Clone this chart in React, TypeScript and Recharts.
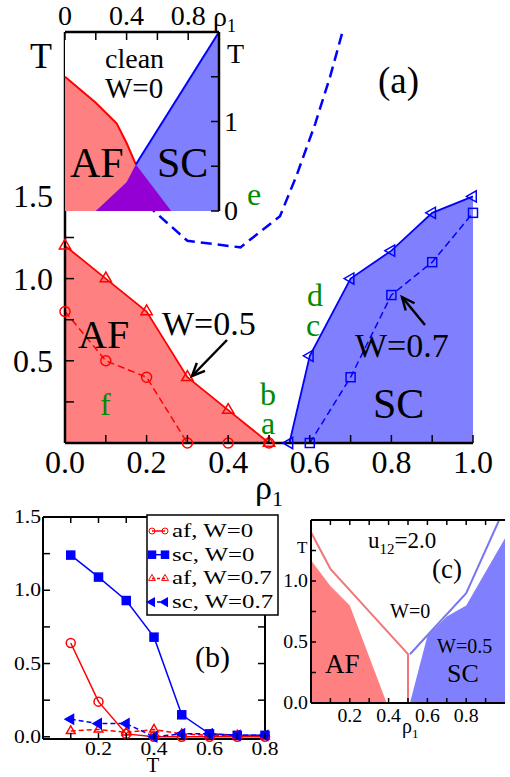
import React from 'react';
import { ComposedChart, Line, Area, XAxis, YAxis } from 'recharts';

const SERIF = '"Liberation Serif", "Times New Roman", serif';
const RED = '#ff0000';
const BLUE = '#0000ff';
const RED_FILL = '#ff8080';
const BLUE_FILL = '#8080ff';
const PURPLE = '#9400d3';
const GREEN = '#008b00';

// (a) main panel: transition lines, rho_1 vs T
const afTriRho = [0, 0.1, 0.2, 0.3, 0.4, 0.5];
const afTriT = [1.2, 1.0, 0.8, 0.4, 0.2, 0];
const afCircRho = [0, 0.1, 0.2, 0.3, 0.4, 0.5];
const afCircT = [0.8, 0.5, 0.4, 0, 0, 0];
const scTriRho = [0.55, 0.6, 0.7, 0.8, 0.9, 1.0];
const scTriT = [0, 0.53, 1.0, 1.17, 1.4, 1.5];
const scSqRho = [0.6, 0.7, 0.8, 0.9, 1.0];
const scSqT = [0, 0.4, 0.9, 1.1, 1.4];
const cleanScRho = [0.2, 0.3, 0.43, 0.527, 0.568, 0.613, 0.65, 0.68];
const cleanScT = [1.45, 1.23, 1.19, 1.38, 1.63, 1.94, 2.23, 2.5];

// inset: clean W=0
const insetAfRho = [0, 0.2, 0.335, 0.4, 0.46, 0.69];
const insetAfT = [1.5, 1.21, 0.98, 0.76, 0.52, 0];
const insetScRho = [0.2, 0.4, 0.46, 1.0];
const insetScT = [0, 0.32, 0.52, 2.0];
const insetBothRho = [0.2, 0.4, 0.46, 0.69];
const insetBothT = [0, 0.32, 0.52, 0];

// (b) order parameters vs T
const bT = [0.1, 0.2, 0.3, 0.4, 0.5, 0.6, 0.7, 0.8];
const afW0 = [0.64, 0.24, 0.02, 0, 0, 0, 0, 0];
const scW0 = [1.24, 1.09, 0.93, 0.68, 0.15, 0.02, 0.01, 0.01];
const afW07 = [0.04, 0.05, 0.03, 0.05, 0.02, 0.01, 0.01, 0];
const scW07 = [0.12, 0.09, 0.09, 0, 0.02, 0.02, 0.01, 0.01];
const legendB = ['af, W=0', 'sc, W=0', 'af, W=0.7', 'sc, W=0.7'];

// (c) u12 = 2.0
const cAfRho = [0, 0.1, 0.2, 0.39];
const cAfT = [1.17, 0.96, 0.8, 0];
const cScRho = [0.51, 0.6, 0.7, 0.8, 1.0];
const cScT = [0, 0.55, 0.71, 0.8, 1.35];
const cAf0Rho = [0, 0.1, 0.5, 0.5];
const cAf0T = [1.4, 1.1, 0.4, 0];
const cSc0Rho = [0.51, 0.8, 0.97];
const cSc0T = [0.4, 0.9, 1.5];

const pts = (xs: number[], ys: number[]) => xs.map((x, i) => ({ x, T: ys[i] }));
const steps = (a: number, b: number, d: number) => {
  const out: number[] = [];
  for (let i = 0; a + i * d <= b + 1e-9; i++) out.push(+(a + i * d).toFixed(3));
  return out;
};
const isMul = (v: number, m: number) => Math.abs(v / m - Math.round(v / m)) < 1e-6;

type TickCfg = {
  side: 'bottom' | 'top' | 'left' | 'right';
  len: number;
  label?: (v: number) => string;
  fs?: number;
  gap?: number;
  dy?: number;
  sx?: number;
  sw?: number;
};

const makeTick = (c: TickCfg) => (p: any) => {
  const { x, y, payload, index } = p;
  const v = payload.value as number;
  const text = c.label ? c.label(v) : '';
  const g = c.gap ?? 0;
  let l = [x, y, x, y - c.len];
  let tx = x, ty = y + g, anchor = 'middle';
  if (c.side === 'top') { l = [x, y, x, y + c.len]; ty = y - g; }
  if (c.side === 'left') { l = [x, y, x + c.len, y]; tx = x - g; ty = y + (c.dy ?? 0); anchor = 'end'; }
  if (c.side === 'right') { l = [x, y, x - c.len, y]; tx = x + g; ty = y + (c.dy ?? 0); anchor = 'start'; }
  return (
    <g key={`tk-${c.side}-${index}`}>
      <line x1={l[0]} y1={l[1]} x2={l[2]} y2={l[3]} stroke="#000" strokeWidth={c.sw ?? 1.5} />
      {text ? (
        <text transform={`translate(${tx} ${ty}) scale(${c.sx ?? 1} 1)`} textAnchor={anchor}
          fontSize={c.fs} style={{ fontFamily: SERIF }} fill="#000">{text}</text>
      ) : null}
    </g>
  );
};

const marker = (shape: string, color: string, s: number, filled: boolean, sw = 1.5) => (p: any) => {
  const { cx, cy, index } = p;
  const key = `m-${shape}-${color}-${index}`;
  if (cx == null || cy == null) return <g key={key} />;
  const fill = filled ? color : 'none';
  if (shape === 'circ') return <circle key={key} cx={cx} cy={cy} r={s} fill={fill} stroke={color} strokeWidth={sw} />;
  if (shape === 'sq') return <rect key={key} x={cx - s} y={cy - s} width={2 * s} height={2 * s} fill={fill} stroke={color} strokeWidth={sw} />;
  const k = 0.87 * s, h = 0.5 * s;
  const poly = shape === 'tri'
    ? `${cx},${cy - s} ${cx - k},${cy + h} ${cx + k},${cy + h}`
    : `${cx - s},${cy} ${cx + h},${cy - k} ${cx + h},${cy + k}`;
  return <polygon key={key} points={poly} fill={fill} stroke={color} strokeWidth={sw} strokeLinejoin="miter" />;
};

const frame = (w: number) => ({ stroke: '#000', strokeWidth: w });

// invisible copy of a series so the secondary (top / right) axes get a scale and draw their ticks
const ghost = (data: any[]) => (
  <Line xAxisId="t" yAxisId="r" data={data} dataKey="T" stroke="none" dot={false} activeDot={false}
    isAnimationActive={false} legendType="none" />
);

function MainChart() {
  return (
    <ComposedChart width={510} height={500} margin={{ top: 32, right: 37, left: 0, bottom: 0 }}>
      <XAxis type="number" dataKey="x" domain={[0, 1]} ticks={steps(0, 1, 0.1)} interval={0}
        tickSize={0} tickMargin={0} tickLine={false} axisLine={frame(2.5)} height={57}
        tick={makeTick({ side: 'bottom', len: 8, gap: 30, fs: 32, label: (v) => (isMul(v, 0.2) ? v.toFixed(1) : '') })} />
      <XAxis xAxisId="t" orientation="top" type="number" dataKey="x" domain={[0, 1]} height={0}
        tick={false} tickLine={false} axisLine={frame(2.5)} />
      <YAxis type="number" domain={[0, 2.5]} ticks={steps(0.25, 1.5, 0.25)} interval={0}
        tickSize={0} tickMargin={0} tickLine={false} axisLine={frame(2.5)} width={65}
        tick={makeTick({ side: 'left', len: 9, gap: 12, dy: 11, fs: 32, label: (v) => (isMul(v, 0.5) ? v.toFixed(1) : '') })} />
      <YAxis yAxisId="r" orientation="right" type="number" domain={[0, 2.5]} width={0}
        tick={false} tickLine={false} axisLine={frame(2.5)} />
      {ghost(pts(scTriRho, scTriT))}
      <Area data={pts(afTriRho, afTriT)} dataKey="T" type="linear" fill={RED_FILL} fillOpacity={1}
        stroke="none" baseValue={0} dot={false} activeDot={false} isAnimationActive={false} />
      <Area data={pts(scTriRho, scTriT)} dataKey="T" type="linear" fill={BLUE_FILL} fillOpacity={1}
        stroke="none" baseValue={0} dot={false} activeDot={false} isAnimationActive={false} />
      <Line data={pts(cleanScRho, cleanScT)} dataKey="T" type="linear" stroke={BLUE} strokeWidth={2.5}
        strokeDasharray="11 6" dot={false} activeDot={false} isAnimationActive={false} />
      <Line data={pts(afTriRho, afTriT)} dataKey="T" type="linear" stroke={RED} strokeWidth={1.8}
        dot={marker('tri', RED, 6.5, false)} activeDot={false} isAnimationActive={false} />
      <Line data={pts(afCircRho, afCircT)} dataKey="T" type="linear" stroke={RED} strokeWidth={1.5}
        strokeDasharray="7 4" dot={marker('circ', RED, 5, false)} activeDot={false} isAnimationActive={false} />
      <Line data={pts(scTriRho, scTriT)} dataKey="T" type="linear" stroke={BLUE} strokeWidth={1.8}
        dot={marker('ltri', BLUE, 6.5, false)} activeDot={false} isAnimationActive={false} />
      <Line data={pts(scSqRho, scSqT)} dataKey="T" type="linear" stroke={BLUE} strokeWidth={1.5}
        strokeDasharray="7 4" dot={marker('sq', BLUE, 4.5, false)} activeDot={false} isAnimationActive={false} />
    </ComposedChart>
  );
}

function InsetChart() {
  return (
    <ComposedChart width={210} height={230} margin={{ top: 31, right: 0, left: 25, bottom: 19 }}>
      <XAxis type="number" dataKey="x" domain={[0, 1]} height={0} tick={false} tickLine={false} axisLine={frame(2.5)} />
      <XAxis xAxisId="t" orientation="top" type="number" dataKey="x" domain={[0, 1]} ticks={steps(0, 0.8, 0.2)} interval={0}
        height={1} tickSize={0} tickMargin={0} tickLine={false} axisLine={frame(2.5)}
        tick={makeTick({ side: 'top', len: 8, gap: 7, fs: 28, label: (v) => (v === 0 ? '0' : isMul(v, 0.4) ? v.toFixed(1) : '') })} />
      <YAxis type="number" domain={[0, 2]} width={0} tick={false} tickLine={false} axisLine={frame(2.5)} />
      <YAxis yAxisId="r" orientation="right" type="number" domain={[0, 2]} ticks={steps(0, 1.5, 0.5)} interval={0}
        width={31} tickSize={0} tickMargin={0} tickLine={false} axisLine={frame(2.5)}
        tick={makeTick({ side: 'right', len: 8, gap: 5, dy: 9, fs: 28, label: (v) => (isMul(v, 1) ? String(v) : '') })} />
      {ghost(pts(insetScRho, insetScT))}
      <Area data={pts(insetAfRho, insetAfT)} dataKey="T" type="linear" fill={RED_FILL} fillOpacity={1}
        stroke="none" baseValue={0} dot={false} activeDot={false} isAnimationActive={false} />
      <Area data={pts(insetScRho, insetScT)} dataKey="T" type="linear" fill={BLUE_FILL} fillOpacity={1}
        stroke="none" baseValue={0} dot={false} activeDot={false} isAnimationActive={false} />
      <Area data={pts(insetBothRho, insetBothT)} dataKey="T" type="linear" fill={PURPLE} fillOpacity={1}
        stroke="none" baseValue={0} dot={false} activeDot={false} isAnimationActive={false} />
      <Line data={pts(insetAfRho, insetAfT).slice(0, 5)} dataKey="T" type="linear" stroke={RED} strokeWidth={2}
        dot={false} activeDot={false} isAnimationActive={false} />
      <Line data={pts(insetScRho, insetScT).slice(2)} dataKey="T" type="linear" stroke={BLUE} strokeWidth={2}
        dot={false} activeDot={false} isAnimationActive={false} />
    </ComposedChart>
  );
}

function PanelB() {
  const series = [
    { v: afW0, c: RED, m: 'circ', s: 4.5, f: false, dash: undefined },
    { v: scW0, c: BLUE, m: 'sq', s: 4, f: true, dash: undefined },
    { v: afW07, c: RED, m: 'tri', s: 5, f: false, dash: '5 3' },
    { v: scW07, c: BLUE, m: 'ltri', s: 5.5, f: true, dash: '5 3' },
  ];
  return (
    <ComposedChart width={300} height={287} margin={{ top: 26, right: 34, left: 0, bottom: 0 }}>
      <XAxis type="number" dataKey="x" domain={[0, 0.8]} ticks={steps(0.1, 0.8, 0.1)} interval={0}
        height={38} tickSize={0} tickMargin={0} tickLine={false} axisLine={frame(2)}
        tick={makeTick({ side: 'bottom', len: 6, gap: 16, fs: 18, sx: 1.2, label: (v) => (isMul(v, 0.2) ? v.toFixed(1) : '') })} />
      <XAxis xAxisId="t" orientation="top" type="number" dataKey="x" domain={[0, 0.8]} ticks={steps(0.1, 0.7, 0.1)} interval={0}
        height={1} tickSize={0} tickMargin={0} tickLine={false} axisLine={frame(2)}
        tick={makeTick({ side: 'top', len: 6 })} />
      <YAxis type="number" domain={[-0.015, 1.5]} ticks={steps(0, 1.5, 0.25)} interval={0}
        width={43} tickSize={0} tickMargin={0} tickLine={false} axisLine={frame(2)}
        tick={makeTick({ side: 'left', len: 7, gap: 2, dy: 6, fs: 18, sx: 1.2, label: (v) => (isMul(v, 0.5) ? v.toFixed(1) : '') })} />
      <YAxis yAxisId="r" orientation="right" type="number" domain={[-0.015, 1.5]} ticks={steps(0.25, 1.25, 0.25)} interval={0}
        width={1} tickSize={0} tickMargin={0} tickLine={false} axisLine={frame(2)}
        tick={makeTick({ side: 'right', len: 7 })} />
      {ghost(pts(bT, scW0))}
      {series.map((s, i) => (
        <Line key={i} data={pts(bT, s.v)} dataKey="T" type="linear" stroke={s.c} strokeWidth={1.5}
          strokeDasharray={s.dash} dot={marker(s.m, s.c, s.s, s.f)} activeDot={false} isAnimationActive={false} />
      ))}
    </ComposedChart>
  );
}

function PanelC() {
  return (
    <ComposedChart width={230} height={277} margin={{ top: 19, right: 5, left: 0, bottom: 0 }}>
      <XAxis type="number" dataKey="x" domain={[0, 1]} ticks={steps(0.1, 0.9, 0.1)} interval={0}
        height={74} tickSize={0} tickMargin={0} tickLine={false} axisLine={frame(2)}
        tick={makeTick({ side: 'bottom', len: 5, gap: 19, fs: 18, sx: 1.1, label: (v) => (isMul(v, 0.2) ? v.toFixed(1) : '') })} />
      <XAxis xAxisId="t" orientation="top" type="number" dataKey="x" domain={[0, 1]} ticks={steps(0.1, 0.9, 0.1)} interval={0}
        height={1} tickSize={0} tickMargin={0} tickLine={false} axisLine={frame(2)}
        tick={makeTick({ side: 'top', len: 5 })} />
      <YAxis type="number" domain={[0, 1.5]} ticks={steps(0, 1.25, 0.25)} interval={0}
        width={31} tickSize={0} tickMargin={0} tickLine={false} axisLine={frame(2)}
        tick={makeTick({ side: 'left', len: 5, gap: 3, dy: 6, fs: 18, sx: 1.1, label: (v) => (isMul(v, 0.5) ? v.toFixed(1) : '') })} />
      <YAxis yAxisId="r" orientation="right" type="number" domain={[0, 1.5]} width={0}
        tick={false} tickLine={false} axisLine={frame(2)} />
      {ghost(pts(cSc0Rho, cSc0T))}
      <Area data={pts(cAfRho, cAfT)} dataKey="T" type="linear" fill={RED_FILL} fillOpacity={1}
        stroke="none" baseValue={0} dot={false} activeDot={false} isAnimationActive={false} />
      <Area data={pts(cScRho, cScT)} dataKey="T" type="linear" fill={BLUE_FILL} fillOpacity={1}
        stroke="none" baseValue={0} dot={false} activeDot={false} isAnimationActive={false} />
      <Line data={pts(cAf0Rho, cAf0T)} dataKey="T" type="linear" stroke="#f07878" strokeWidth={2}
        dot={false} activeDot={false} isAnimationActive={false} />
      <Line data={pts(cSc0Rho, cSc0T)} dataKey="T" type="linear" stroke="#7878f0" strokeWidth={2}
        dot={false} activeDot={false} isAnimationActive={false} />
    </ComposedChart>
  );
}

const Txt = ({ x, y, s, fill = '#000', anchor = 'start', sx = 1, children }: any) => (
  <text transform={`translate(${x} ${y}) scale(${sx} 1)`} fontSize={s} style={{ fontFamily: SERIF }}
    fill={fill} textAnchor={anchor}>{children}</text>
);

const Arrow = ({ x1, y1, x2, y2 }: any) => {
  const a = Math.atan2(y2 - y1, x2 - x1);
  const h = 14, w = 0.42;
  const p1 = `${x2 - h * Math.cos(a - w)},${y2 - h * Math.sin(a - w)}`;
  const p2 = `${x2 - h * Math.cos(a + w)},${y2 - h * Math.sin(a + w)}`;
  return (
    <g stroke="#000" strokeWidth={2.5} fill="none">
      <line x1={x1} y1={y1} x2={x2} y2={y2} />
      <polyline points={`${p1} ${x2},${y2} ${p2}`} />
    </g>
  );
};

function Overlay() {
  const legendMarks = [marker('circ', RED, 3, false, 1), marker('sq', BLUE, 3.5, true), marker('tri', RED, 4, false, 1), marker('ltri', BLUE, 4.5, true)];
  const legendColors = [RED, BLUE, RED, BLUE];
  return (
    <svg width={510} height={777} style={{ position: 'absolute', left: 0, top: 0, pointerEvents: 'none' }}>
      {/* panel (a) */}
      <Txt x={30} y={68} s={36}>T</Txt>
      <Txt x={255} y={499} s={34}>ρ<tspan fontSize={22} dy={7}>1</tspan></Txt>
      <Txt x={378} y={93} s={37}>(a)</Txt>
      <Txt x={78} y={348} s={40}>AF</Txt>
      <Txt x={162} y={335} s={34}>W=0.5</Txt>
      <Txt x={373} y={418} s={42}>SC</Txt>
      <Txt x={355} y={357} s={34}>W=0.7</Txt>
      <Arrow x1={227} y1={340} x2={192} y2={376} />
      <Arrow x1={425} y1={325} x2={402} y2={297} />
      <Txt x={247} y={205} s={32} fill={GREEN}>e</Txt>
      <Txt x={100} y={415} s={32} fill={GREEN}>f</Txt>
      <Txt x={260} y={405} s={32} fill={GREEN}>b</Txt>
      <Txt x={261} y={434} s={32} fill={GREEN}>a</Txt>
      <Txt x={307} y={306} s={32} fill={GREEN}>d</Txt>
      <Txt x={306} y={336} s={32} fill={GREEN}>c</Txt>
      {/* inset */}
      <Txt x={105} y={68} s={28}>clean</Txt>
      <Txt x={105} y={98} s={29}>W=0</Txt>
      <Txt x={70} y={177} s={42}>AF</Txt>
      <Txt x={157} y={177} s={42}>SC</Txt>
      <Txt x={213} y={26} s={28}>ρ<tspan fontSize={18} dy={6}>1</tspan></Txt>
      <Txt x={227} y={63} s={28}>T</Txt>
      {/* panel (b) */}
      <Txt x={195} y={667} s={30}>(b)</Txt>
      <Txt x={153} y={772} s={21} anchor="middle">T</Txt>
      <rect x={147} y={515} width={131} height={100} fill="#fff" stroke="#000" strokeWidth={1.5} />
      {legendB.map((name, i) => {
        const by = 537 + i * 23.7;
        const my = by - 6;
        const Mk = legendMarks[i];
        return (
          <g key={name}>
            <line x1={152} y1={my} x2={165} y2={my} stroke={legendColors[i]} strokeWidth={1.5}
              strokeDasharray={i >= 2 ? '3 2' : undefined} />
            {Mk({ cx: 152, cy: my, index: `${i}a` })}
            {Mk({ cx: 165, cy: my, index: `${i}b` })}
            <Txt x={172} y={by} s={18} sx={1.38}>{name}</Txt>
          </g>
        );
      })}
      {/* panel (c) */}
      <Txt x={368} y={548} s={23}>u<tspan fontSize={15} dy={6}>12</tspan><tspan dy={-6}>=2.0</tspan></Txt>
      <Txt x={432} y={578} s={27}>(c)</Txt>
      <Txt x={390} y={618} s={20}>W=0</Txt>
      <Txt x={437} y={653} s={20}>W=0.5</Txt>
      <Txt x={325} y={673} s={27}>AF</Txt>
      <Txt x={447} y={682} s={26}>SC</Txt>
      <Txt x={297} y={553} s={17}>T</Txt>
      <Txt x={402} y={733} s={20}>ρ<tspan fontSize={13} dy={5}>1</tspan></Txt>
    </svg>
  );
}

export default function App() {
  return (
    <div style={{ position: 'absolute', left: 0, top: 0, width: 510, height: 777, background: '#fff', fontFamily: SERIF }}>
      <div style={{ position: 'absolute', left: 0, top: 0 }}><MainChart /></div>
      <div style={{ position: 'absolute', left: 65, top: 32, width: 154, height: 179, background: '#fff' }} />
      <div style={{ position: 'absolute', left: 40, top: 0 }}><InsetChart /></div>
      <div style={{ position: 'absolute', left: 0, top: 490 }}><PanelB /></div>
      <div style={{ position: 'absolute', left: 280, top: 500 }}><PanelC /></div>
      <Overlay />
    </div>
  );
}
